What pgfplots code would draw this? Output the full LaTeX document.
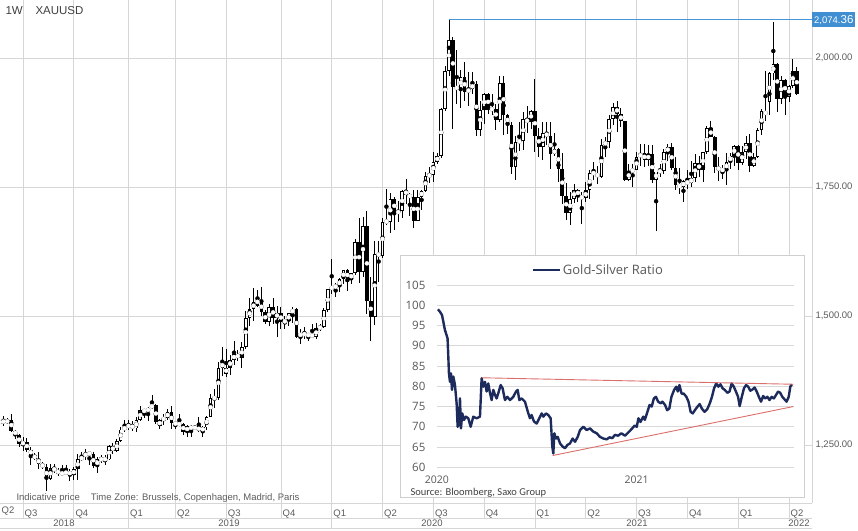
\documentclass[border=0pt]{standalone}
\usepackage{fontspec}
\setmainfont{Liberation Sans}
\newfontfamily\insetfont{Open Sans}
\newfontfamily\srcfont{Carlito}
\usepackage{pgfplots}
\usepackage{pgfplotstable}
\pgfplotsset{compat=1.18}

\definecolor{gridc}{HTML}{D6D6D6}
\definecolor{labc}{HTML}{5C5C5C}
\definecolor{hilite}{HTML}{3F8FD2}
\definecolor{athblue}{RGB}{70,150,215}
\definecolor{navy}{HTML}{1C2A5C}
\definecolor{trend}{HTML}{DB6F6A}
\definecolor{insetlab}{HTML}{595959}
\definecolor{insetgrid}{HTML}{D9D9D9}
\definecolor{boxc}{HTML}{CFCFCF}

% weekly XAUUSD candles, k = bar index (week of 21 May 2018 = 0)
\pgfplotstableread{
k o h l c
0 1291 1303 1286 1298
1 1298 1307 1287 1293
2 1293 1303 1290 1299
3 1299 1310 1276 1278
4 1278 1280 1261 1269
5 1269 1272 1246 1252
6 1252 1265 1238 1255
7 1255 1263 1236 1241
8 1241 1246 1211 1231
9 1231 1235 1220 1223
10 1223 1236 1204 1214
11 1214 1218 1204 1207
12 1207 1213 1160 1184
13 1184 1214 1183 1206
14 1206 1214 1195 1200
15 1200 1206 1189 1196
16 1196 1212 1191 1194
17 1194 1211 1193 1199
18 1199 1204 1181 1192
19 1192 1208 1183 1203
20 1203 1233 1182 1222
21 1222 1236 1219 1227
22 1227 1243 1221 1235
23 1235 1237 1211 1232
24 1232 1237 1206 1209
25 1209 1226 1196 1222
26 1222 1230 1216 1223
27 1223 1230 1211 1222
28 1222 1250 1221 1248
29 1248 1253 1233 1238
30 1238 1261 1236 1257
31 1257 1284 1255 1280
32 1280 1299 1276 1285
33 1285 1298 1280 1289
34 1289 1297 1277 1282
35 1282 1305 1276 1298
36 1298 1326 1297 1318
37 1318 1319 1302 1314
38 1314 1323 1297 1322
39 1322 1346 1319 1328
40 1328 1330 1290 1294
41 1287 1300 1281 1298
42 1298 1311 1289 1303
43 1303 1320 1298 1313
44 1313 1325 1281 1292
45 1292 1296 1281 1291
46 1291 1310 1286 1290
47 1290 1292 1270 1276
48 1276 1288 1266 1286
49 1286 1288 1266 1281
50 1281 1289 1279 1286
51 1286 1304 1275 1277
52 1277 1287 1266 1284
53 1284 1306 1280 1305
54 1305 1348 1305 1341
55 1341 1358 1322 1341
56 1341 1411 1337 1400
57 1400 1439 1384 1409
58 1388 1437 1381 1400
59 1400 1425 1386 1415
60 1415 1452 1406 1426
61 1426 1434 1412 1419
62 1419 1449 1400 1440
63 1440 1510 1437 1497
64 1497 1535 1480 1513
65 1513 1555 1490 1527
66 1535 1550 1518 1520
67 1529 1557 1500 1507
68 1507 1511 1484 1488
69 1488 1523 1480 1517
70 1517 1535 1484 1497
71 1497 1519 1459 1505
72 1505 1517 1474 1489
73 1489 1500 1475 1490
74 1490 1506 1480 1505
75 1505 1517 1486 1514
76 1514 1515 1457 1459
77 1459 1474 1445 1468
78 1468 1478 1456 1462
79 1462 1467 1452 1464
80 1464 1484 1458 1460
81 1460 1487 1456 1476
82 1476 1485 1471 1479
83 1479 1515 1476 1511
84 1511 1553 1508 1552
85 1552 1611 1543 1557
86 1557 1563 1536 1557
87 1557 1573 1546 1571
88 1571 1590 1562 1589
89 1589 1591 1548 1570
90 1570 1584 1562 1584
91 1584 1649 1580 1643
92 1643 1689 1563 1585
93 1585 1692 1576 1674
94 1674 1703 1504 1530
95 1530 1575 1451 1498
96 1498 1645 1482 1620
97 1622 1645 1566 1616
98 1616 1690 1613 1683
99 1683 1747 1677 1683
100 1683 1738 1660 1727
101 1727 1731 1667 1700
102 1700 1722 1683 1703
103 1703 1745 1690 1743
104 1743 1765 1717 1735
105 1735 1738 1693 1730
106 1730 1745 1670 1685
107 1685 1745 1685 1730
108 1730 1745 1705 1743
109 1743 1779 1741 1771
110 1771 1789 1758 1774
111 1774 1818 1760 1799
112 1799 1815 1795 1810
113 1810 1904 1806 1902
114 1902 1984 1898 1975
115 1975 2074.36 1965 2035
116 2035 2040 1863 1944
117 1944 2015 1911 1940
118 1940 1976 1903 1964
119 1964 1992 1917 1934
120 1934 1973 1906 1940
121 1940 1973 1930 1950
122 1950 1956 1848 1861
123 1861 1917 1849 1899
124 1899 1933 1873 1930
125 1930 1933 1891 1900
126 1900 1931 1890 1902
127 1902 1911 1860 1879
128 1879 1965 1876 1951
129 1951 1966 1850 1889
130 1889 1892 1853 1871
131 1871 1875 1775 1788
132 1788 1848 1764 1838
133 1838 1875 1820 1839
134 1839 1896 1822 1881
135 1881 1906 1855 1876
136 1876 1900 1862 1898
137 1898 1959 1817 1849
138 1849 1864 1808 1828
139 1828 1875 1803 1855
140 1855 1875 1832 1848
141 1848 1875 1785 1814
142 1814 1855 1810 1823
143 1823 1825 1760 1784
144 1784 1816 1717 1733
145 1733 1758 1687 1700
146 1700 1740 1677 1727
147 1727 1755 1719 1745
148 1745 1746 1721 1732
149 1732 1740 1678 1728
150 1728 1759 1720 1744
151 1744 1783 1727 1777
152 1777 1798 1764 1777
153 1777 1790 1756 1769
154 1769 1843 1768 1831
155 1831 1846 1808 1838
156 1838 1890 1825 1881
157 1881 1913 1870 1905
158 1905 1916 1856 1892
159 1892 1903 1866 1877
160 1877 1878 1761 1764
161 1764 1795 1761 1781
162 1781 1795 1750 1783
163 1783 1818 1783 1808
164 1808 1834 1791 1815
165 1815 1833 1789 1802
166 1802 1832 1791 1814
167 1814 1832 1758 1763
168 1763 1780 1665 1780
169 1780 1795 1770 1781
170 1781 1823 1776 1817
171 1817 1834 1800 1828
172 1828 1836 1782 1787
173 1787 1809 1745 1754
174 1754 1787 1737 1750
175 1750 1764 1721 1761
176 1761 1782 1746 1757
177 1757 1801 1750 1768
178 1768 1814 1760 1796
179 1796 1810 1770 1783
180 1783 1818 1759 1818
181 1818 1869 1814 1865
182 1865 1877 1847 1846
183 1846 1849 1778 1788
184 1788 1809 1762 1783
185 1783 1793 1765 1783
186 1783 1815 1753 1798
187 1798 1816 1785 1811
188 1811 1831 1790 1829
189 1829 1831 1782 1797
190 1797 1830 1793 1818
191 1818 1848 1805 1835
192 1835 1853 1780 1791
193 1791 1815 1788 1808
194 1808 1865 1807 1860
195 1860 1902 1850 1898
196 1898 1974 1878 1889
197 1915 1972 1889 1970
198 1970 2070 1957 1988
199 1988 1990 1895 1921
200 1921 1966 1910 1958
201 1958 1960 1890 1925
202 1925 1948 1915 1946
203 1946 1998 1941 1975
204 1975 1982 1929 1931
}\gold

% gold-silver ratio, d = days from start of inset series
\pgfplotstableread{
d r
0 99.0
3.7 98.4
7.5 97.6
10 96.0
13 93.9
16 92.7
18 91.8
19.4 87.3
20.6 83.2
22.5 81.1
24.4 83.2
26.3 79.1
28.8 82.4
31.9 80.3
35 75.8
36.9 70.0
39.4 70.8
41.3 77.0
43.1 69.6
45.6 73.3
48.8 71.7
52.5 72.5
56.9 72.1
61.3 70.0
66.3 72.5
72.5 72.1
78.8 72.5
81.9 82.0
85 79.9
88.2 81.1
91.3 78.7
94.4 80.7
97.6 78.3
100.7 76.6
103.8 79.1
106.9 77.9
110 77.0
113.2 78.3
117.6 80.3
121.3 79.5
125.7 76.6
130.1 77.4
135.1 76.6
141.3 77.4
146.3 78.7
149.5 79.1
152.6 76.6
157 77.0
163.2 76.2
169.5 73.3
172.6 72.1
175.7 72.9
180.1 71.3
185.1 70.8
190.1 72.1
194.5 73.3
197.6 72.5
202.6 73.3
207 72.9
211.4 72.1
214.5 65.1
216.4 63.4
218.3 68.4
221.5 67.1
224.6 67.5
229 65.9
234 65.1
238.3 64.7
242.7 65.5
247.7 65.9
252.7 67.1
257.1 66.3
262.1 67.5
266.5 69.2
272.7 70.0
279 69.2
285.2 69.6
291.5 68.8
297.7 68.4
304 67.5
310.3 67.1
316.5 66.9
322 67.4
327 67.2
332 68.0
338 67.8
344 68.4
351 67.8
357 68.6
363 69.4
369 70.3
373 70.0
376 72.1
380 71.2
385 72.5
388 71.7
392 73.3
397 75.4
401 75.0
405 77.0
409 77.4
413 76.2
418 75.8
421 76.2
426 75.4
430 74.1
434 74.5
438 77.4
443 79.1
447 79.9
450 78.7
453 80.3
457 78.2
461 78.2
466 77.4
470 76.2
474 73.7
478 73.3
482 74.1
487 75.0
491 75.6
495 74.5
500 73.7
505 74.3
510 75.8
514 77.4
518 79.5
522 80.7
526 79.9
530 80.5
534 79.5
538 79.1
543 78.4
547 78.7
551 80.7
555 79.9
559 78.7
563 77.4
566 75.1
570 77.4
574 79.5
578 80.3
582 79.9
586 78.9
590 79.2
594 79.7
598 78.7
602 77.4
606 76.2
610 77.6
614 77.0
618 77.4
622 76.6
626 77.4
630 77.0
634 77.8
638 78.7
642 78.4
646 77.4
650 76.8
654 76.2
658 77.4
661 79.9
664 80.5
}\gsr

\begin{document}
\begin{tikzpicture}
\fill[white] (0pt,0pt) rectangle (858pt,530pt);
\path[use as bounding box] (0pt,0pt) rectangle (858pt,530pt);

\begin{axis}[
  at={(0pt,27pt)}, anchor=south west,
  scale only axis, width=812pt, height=503pt,
  xmin=0.115, xmax=207.9, ymin=1137.6, ymax=2112.4,
  clip=false,
  axis line style={draw=none},
  xtick={6,19,33,45,58,72,85,98,111,124,137,150,163,176,189,202},
  xticklabels={Q3,Q4,Q1,Q2,Q3,Q4,Q1,Q2,Q3,Q4,Q1,Q2,Q3,Q4,Q1,Q2},
  ytick={1250,1500,1750,2000},
  yticklabels={{1,250.00},{1,500.00},{1,750.00},{2,000.00}},
  grid=major,
  major grid style={draw=gridc, line width=0.8pt},
  xtick pos=left, ytick pos=right, yticklabel pos=right,
  tick align=outside,
  major tick length=15pt,
  xtick style={draw=gridc, line width=0.8pt},
  ytick style={draw=none},
  xticklabel style={anchor=west, inner xsep=1.5pt, yshift=4pt,
    font=\fontsize{9.5}{10}\selectfont, text=labc},
  yticklabel style={font=\fontsize{9.5}{10}\selectfont, text=labc, xshift=-15pt},
  extra x ticks={33,85,137,189},
  extra x tick labels={},
  extra x tick style={major tick length=25.5pt, grid=none,
    tick style={draw=gridc, line width=0.8pt}},
]
% all-time-high reference line
\draw[draw=athblue, line width=1.2pt] (axis cs:115,2074.36) -- (axis cs:207.9,2074.36);
% wicks
\addplot[black, only marks, mark=none,
  error bars/.cd, y dir=both, y explicit, error mark=none,
  error bar style={line width=0.9pt, draw=black}]
  table[x=k, y expr={(\thisrow{h}+\thisrow{l})/2},
        y error expr={(\thisrow{h}-\thisrow{l})/2}] {\gold};
% bodies
\addplot[black, only marks, mark=none,
  error bars/.cd, y dir=both, y explicit, error mark=none,
  error bar style={line width=3.6pt, draw=black}]
  table[x=k, y expr={(\thisrow{o}+\thisrow{c})/2},
        y error expr={max(abs(\thisrow{c}-\thisrow{o})/2,2.0)}] {\gold};
% hollow up candles
\addplot[white, only marks, mark=none,
  error bars/.cd, y dir=both, y explicit, error mark=none,
  error bar style={line width=1.7pt, draw=white}]
  table[x=k, y expr={(\thisrow{o}+\thisrow{c})/2},
        y error expr={(\thisrow{c}>\thisrow{o})*max(abs(\thisrow{c}-\thisrow{o})/2-1.85,0)}] {\gold};
\coordinate (hl) at (axis cs:207.9,2074.36);
\end{axis}

\draw[gridc, line width=0.8pt] (812pt,27pt) -- (812pt,530pt);
\draw[gridc, line width=0.8pt] (0pt,27pt) -- (812pt,27pt);
\draw[gridc, line width=0.8pt] (0pt,12pt) -- (812pt,12pt);
\draw[gridc, line width=0.8pt] (0pt,1.5pt) -- (812pt,1.5pt);

\node[fill=hilite, text=white, anchor=west, inner xsep=2pt, inner ysep=0pt,
  minimum height=15pt, font=\fontsize{9.5}{10}\selectfont] at (hl)
  {2,074.{\fontsize{11.5}{12}\selectfont 36}};

\node[anchor=west, text=labc, inner xsep=1.5pt, font=\fontsize{9.5}{10}\selectfont] at (0pt,19pt) {Q2};
\begin{scope}[font=\fontsize{9.5}{10}\selectfont, text=labc]
\node at (64pt,6.5pt) {2018};
\node at (229pt,6.5pt) {2019};
\node at (432pt,6.5pt) {2020};
\node at (637pt,6.5pt) {2021};
\node at (799pt,6.5pt) {2022};
\end{scope}
\node[anchor=west, text=black!75, font=\fontsize{11.5}{12}\selectfont] at (2pt,519pt) {1W};
\node[anchor=west, text=black!75, font=\fontsize{11.5}{12}\selectfont] at (32pt,519pt) {XAUUSD};
\node[anchor=west, text=labc, font=\fontsize{9.5}{10}\selectfont] at (13pt,32.3pt)
  {Indicative price\hspace{11pt}Time Zone: Brussels, Copenhagen, Madrid, Paris};

% inset
\fill[white] (400pt,33pt) rectangle (804pt,275pt);
\draw[boxc, line width=0.8pt] (400pt,33pt) rectangle (804pt,275pt);

\begin{axis}[
  at={(436.9pt,62.7pt)}, anchor=south west,
  scale only axis, width=356.6pt, height=182.3pt,
  xmin=-2, xmax=667, ymin=60, ymax=105,
  clip=false,
  axis line style={draw=none},
  ytick={60,65,...,105},
  xtick={-2,372.8},
  xticklabels={2020,2021},
  ymajorgrids,
  major grid style={draw=insetgrid, line width=0.9pt},
  tick style={draw=none}, major tick length=0pt,
  /pgf/number format/assume math mode=true,
  yticklabel style={font=\insetfont\fontsize{11.5}{12}\selectfont, text=insetlab, xshift=-8pt},
  xticklabel style={font=\insetfont\fontsize{10.5}{11}\selectfont, text=insetlab, anchor=center, yshift=-12.7pt},
  legend style={at={(0.452,1.082)}, anchor=center, draw=none, fill=none,
    font=\insetfont\fontsize{13}{14}\selectfont, text=insetlab,
    inner xsep=0pt, inner ysep=0pt},
  legend cell align=left,
  legend image code/.code={\draw[navy, line width=2.6pt] (0pt,0pt) -- (27pt,0pt);},
]
\addplot[navy, line width=2.4pt, line join=round] table[x=d, y=r] {\gsr};
\addlegendentry{Gold-Silver Ratio}
\addplot[trend, line width=0.9pt, forget plot] coordinates {(82,82.1) (666.6,80.5)};
\addplot[trend, line width=0.9pt, forget plot] coordinates {(215,62.9) (666.6,75.0)};
\end{axis}

\node[anchor=west, text=black!75, font=\srcfont\fontsize{10.5}{11}\selectfont] at (407pt,37.5pt)
  {Source: Bloomberg, Saxo Group};
\end{tikzpicture}
\end{document}
